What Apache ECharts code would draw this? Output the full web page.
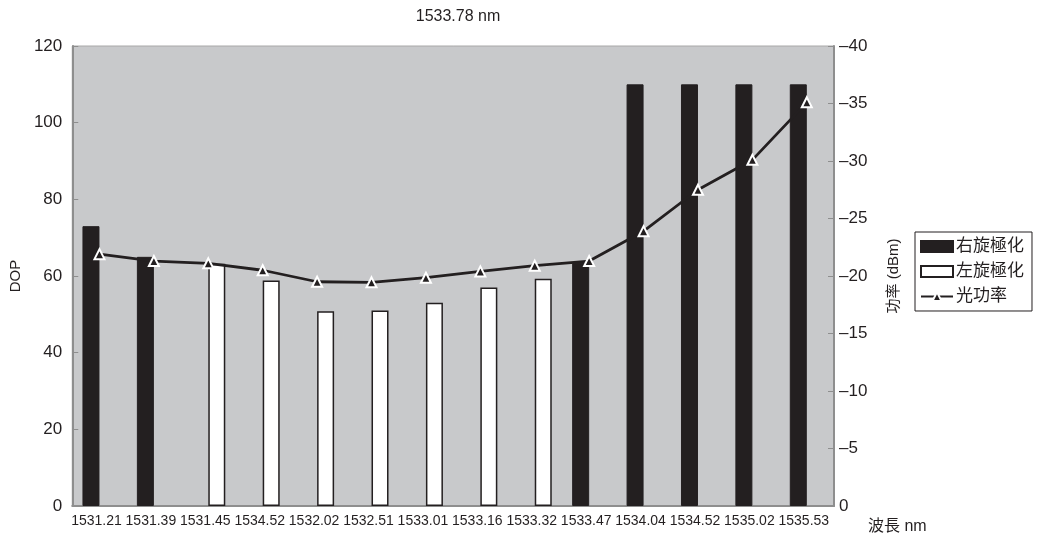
<!DOCTYPE html>
<html>
<head>
<meta charset="utf-8">
<script src="https://cdn.jsdelivr.net/npm/echarts@6/dist/echarts.min.js"></script>
<style>html,body{margin:0;padding:0;background:#fff;}#c{width:1042px;height:539px;}</style>
</head>
<body>
<div id="c"></div>
<script>
const categories = ['1531.21','1531.39','1531.45','1534.52','1532.02','1532.51','1533.01','1533.16','1533.32','1533.47','1534.04','1534.52','1535.02','1535.53'];
const rightPol = [73, 65, null, null, null, null, null, null, null, 63.4, 110, 110, 110, 110];
const leftPol = [null, null, 63.2, 58.8, 50.8, 51.0, 53.0, 57.0, 59.3, null, null, null, null, null];
const power = [-21.9, -21.3, -21.1, -20.5, -19.5, -19.45, -19.85, -20.4, -20.9, -21.3, -23.9, -27.5, -30.1, -35.1];
const leftTicks = {min: 0, max: 120, interval: 20};
const rightTicks = {min: -40, max: 0, interval: 5};

const ink = '#231f20';
const axisGrey = '#8e8e8e';
const font = 'Liberation Sans, Arial, Noto Sans CJK SC, sans-serif';

const chart = echarts.init(document.getElementById('c'), null, {renderer: 'canvas'});
chart.setOption({
  animation: false,
  textStyle: {fontFamily: font, color: ink},
  title: {
    text: '1533.78 nm',
    left: 453, top: 4, textAlign: 'center',
    textStyle: {fontSize: 16, fontWeight: 'normal', color: ink, fontFamily: font}
  },
  grid: {
    left: 72, right: 208, top: 46, bottom: 33,
    show: true, backgroundColor: '#c8c9cb', borderColor: '#a8a8a8', borderWidth: 1
  },
  legend: {
    orient: 'vertical',
    left: 915, top: 232,
    padding: [6, 8, 6, 5],
    itemGap: 8,
    itemWidth: 32, itemHeight: 11,
    borderColor: ink, borderWidth: 1,
    backgroundColor: '#fff',
    textStyle: {fontSize: 17, color: ink, fontFamily: font, padding: [0, 0, 0, -2]},
    data: [
      {name: '右旋極化', icon: 'rect'},
      {name: '左旋極化', icon: 'rect'},
      {name: '光功率'}
    ]
  },
  xAxis: {
    type: 'category',
    data: categories,
    name: '波長 nm',
    nameLocation: 'end',
    nameGap: 34,
    nameTextStyle: {fontSize: 16, color: ink, fontFamily: font, verticalAlign: 'top', padding: [13, 0, 0, 0]},
    axisLine: {lineStyle: {color: axisGrey, width: 2}},
    axisTick: {inside: true, length: 5, lineStyle: {color: axisGrey, width: 1}},
    axisLabel: {fontSize: 14, color: ink, margin: 8, interval: 0, fontFamily: font, padding: [0, 6, 0, 0]},
    splitLine: {show: false}
  },
  yAxis: [
    {
      type: 'value',
      min: leftTicks.min, max: leftTicks.max, interval: leftTicks.interval,
      name: 'DOP',
      nameLocation: 'middle',
      nameGap: 46,
      nameRotate: 90,
      nameTextStyle: {fontSize: 15, color: ink, fontFamily: font},
      axisLine: {show: true, lineStyle: {color: axisGrey, width: 2}},
      axisTick: {show: true, inside: true, length: 6, lineStyle: {color: axisGrey}},
      axisLabel: {fontSize: 17, color: ink, margin: 10, fontFamily: font},
      splitLine: {show: false}
    },
    {
      type: 'value',
      position: 'right',
      inverse: true,
      min: rightTicks.min, max: rightTicks.max, interval: rightTicks.interval,
      name: '功率 (dBm)',
      nameLocation: 'middle',
      nameGap: 52,
      nameRotate: 90,
      nameTextStyle: {fontSize: 15, color: ink, fontFamily: font},
      axisLine: {show: true, lineStyle: {color: axisGrey, width: 2}},
      axisTick: {show: true, inside: true, length: 6, lineStyle: {color: axisGrey}},
      axisLabel: {
        fontSize: 17, color: ink, margin: 5, fontFamily: font,
        formatter: v => String(v).replace('-', '\u2013')
      },
      splitLine: {show: false}
    }
  ],
  series: [
    {
      name: '右旋極化',
      type: 'bar',
      data: rightPol,
      barWidth: 17,
      barGap: '0%',
      itemStyle: {color: ink, borderColor: ink, borderWidth: 1}
    },
    {
      name: '左旋極化',
      type: 'bar',
      data: leftPol,
      barWidth: 17,
      barGap: '0%',
      itemStyle: {color: '#ffffff', borderColor: ink, borderWidth: 1.5}
    },
    {
      name: '光功率',
      type: 'line',
      yAxisIndex: 1,
      data: power,
      symbol: 'triangle',
      symbolSize: 10,
      lineStyle: {color: ink, width: 2.8},
      itemStyle: {color: ink, borderColor: '#ffffff', borderWidth: 2},
      z: 5
    }
  ]
});
</script>
</body>
</html>
